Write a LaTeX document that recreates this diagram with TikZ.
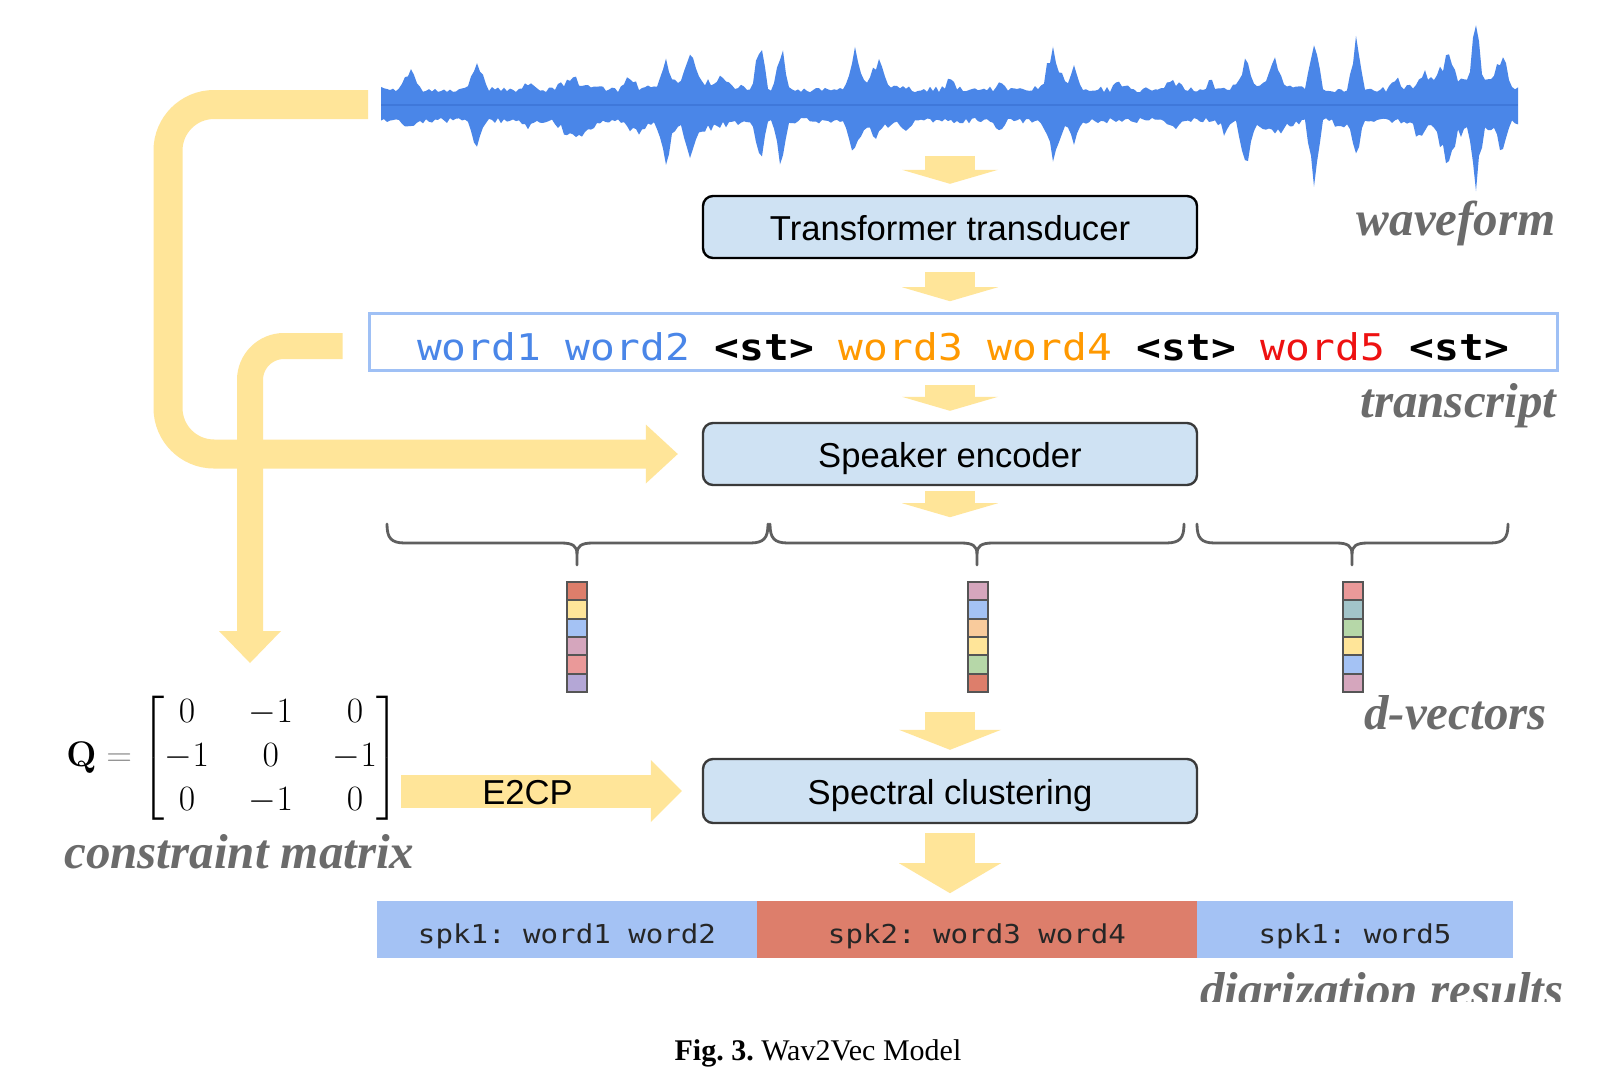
\documentclass[tikz,border=0pt]{standalone}
\usepackage{amsmath}
\usepackage{fix-cm}
\usepackage[no-math]{fontspec}
\setmainfont{Liberation Serif}
\setsansfont{Liberation Sans}
\setmonofont{DejaVu Sans Mono}
\newfontfamily\wmono[FakeStretch=1.12]{DejaVu Sans Mono}
\usetikzlibrary{arrows.meta,calc}

\definecolor{ylw}{HTML}{FFE599}
\definecolor{wblue}{HTML}{4A86E8}
\definecolor{wdark}{HTML}{3F78DA}
\definecolor{boxfill}{HTML}{CFE2F3}
\definecolor{boxline}{HTML}{3A3A3A}
\definecolor{lblue}{HTML}{A4C2F4}
\definecolor{trline}{HTML}{9FC0F5}
\definecolor{lred}{HTML}{DD7E6B}
\definecolor{wordorange}{HTML}{FF9900}
\definecolor{wordred}{HTML}{EE1111}
\definecolor{labgray}{HTML}{6B6B6B}
\definecolor{bracegray}{HTML}{5F5F5F}
\definecolor{vecgray}{HTML}{555555}
\definecolor{cA}{HTML}{DD7E6B}
\definecolor{cB}{HTML}{FFE599}
\definecolor{cC}{HTML}{A4C2F4}
\definecolor{cD}{HTML}{D5A6BD}
\definecolor{cE}{HTML}{EA9999}
\definecolor{cF}{HTML}{B4A7D6}
\definecolor{cG}{HTML}{F9CB9C}
\definecolor{cH}{HTML}{B6D7A8}
\definecolor{cI}{HTML}{A2C4C9}

\newcommand\dvbrace[3]{%
  \draw[bracestyle] (#1,524) .. controls (#1,538) and (#1+4,543) .. (#1+18,543) -- (#2-16,543) .. controls (#2-4,543) and (#2,546) .. (#2,554) -- (#2,565);
  \draw[bracestyle] (#3,524) .. controls (#3,538) and (#3-4,543) .. (#3-18,543) -- (#2+16,543) .. controls (#2+4,543) and (#2,546) .. (#2,554);
}
\newcommand\dvcol[2]{%
  \foreach \dvc [count=\dvi] in {#2} {
    \filldraw[fill=\dvc, draw=vecgray, line width=1pt] (#1,{582+18.3*(\dvi-1)}) rectangle ++(19.5,18.3);
  }
}

\begin{document}
\begin{tikzpicture}[x=0.5pt,y=-0.5pt,
  declare function={
    sp(\qa,\qb,\qc)=max(0,1-abs(\qa-\qb)/\qc);
    wt(\qa)=(0.8+0.35*rnd)*(16+8*sp(\qa,700,60)+12*sp(\qa,1460,70)+7*sp(\qa,870,40)+7*sp(\qa,1270,50)+9*sp(\qa,576,30)+6*sp(\qa,1060,40)
      +18*sp(\qa,411,12)+30*sp(\qa,477,11)+15*sp(\qa,630,10)+28*sp(\qa,666,10)+30*sp(\qa,691,10)+50*sp(\qa,760,8)+46*sp(\qa,781,8)
      +34*sp(\qa,855,10)+28*sp(\qa,878,9)+36*sp(\qa,1053,11)+22*sp(\qa,1074,8)+10*sp(\qa,1173,12)+26*sp(\qa,1246,10)+20*sp(\qa,1275,9)
      +46*sp(\qa,1314,9)+46*sp(\qa,1356,9)+26*sp(\qa,1447,11)+54*sp(\qa,1476,8)+30*sp(\qa,1502,10)
      +9*sp(\qa,530,9)+11*sp(\qa,720,8)+9*sp(\qa,950,9)+8*sp(\qa,1000,8)+9*sp(\qa,1120,9)+8*sp(\qa,1210,8)+11*sp(\qa,1395,9)+13*sp(\qa,1425,8));
    wb(\qa)=(0.8+0.35*rnd)*(16+8*sp(\qa,700,60)+12*sp(\qa,1460,70)+7*sp(\qa,870,40)+7*sp(\qa,1270,50)+9*sp(\qa,576,30)+6*sp(\qa,1060,40)
      +8*sp(\qa,411,12)+23*sp(\qa,477,11)+11*sp(\qa,576,22)+13*sp(\qa,630,10)+33*sp(\qa,666,10)+30*sp(\qa,691,10)+46*sp(\qa,760,8)+55*sp(\qa,781,8)
      +30*sp(\qa,855,10)+12*sp(\qa,878,9)+30*sp(\qa,1053,11)+20*sp(\qa,1074,8)+8*sp(\qa,1173,12)+37*sp(\qa,1246,10)+10*sp(\qa,1275,9)
      +66*sp(\qa,1314,9)+33*sp(\qa,1356,9)+38*sp(\qa,1447,11)+62*sp(\qa,1476,8)+24*sp(\qa,1502,10)
      +7*sp(\qa,530,9)+13*sp(\qa,640,8)+9*sp(\qa,905,9)+11*sp(\qa,1000,8)+13*sp(\qa,1225,8)+15*sp(\qa,1420,8)+11*sp(\qa,1340,8));
  },
  procbox/.style={draw=#1, fill=boxfill, line width=1.2pt, rounded corners=5pt,
    minimum width=247pt, minimum height=31pt, inner sep=0pt, text height=13pt, text depth=0pt,
    font=\sffamily\fontsize{17.3pt}{20pt}\selectfont},
  procbox/.default=black,
  barseg/.style={fill=#1, draw=none, minimum height=28.5pt, inner sep=0pt, text height=14pt, text depth=0pt,
    font=\wmono\frenchspacing\fontsize{13pt}{15pt}\selectfont, text=black!85},
  smallarr/.style={draw=ylw, line width=25pt, -{Triangle[length=7pt,width=48pt,line width=0pt]}},
  midarr/.style={draw=ylw, line width=25pt, -{Triangle[length=#1,width=51pt,line width=0pt]}},
  flowarr/.style={draw=ylw, line width=14.5pt, rounded corners=23pt, -{Triangle[length=16pt,width=29.5pt,line width=0pt]}},
  lab/.style={text=labgray, font=\bfseries\itshape\fontsize{24.5pt}{28pt}\selectfont, inner sep=0pt},
  bracestyle/.style={draw=bracegray, line width=1.4pt, line cap=round, line join=round},
]
\useasboundingbox (0,0) rectangle (1619,1067);
\fill[white] (0,0) rectangle (1619,1067);

% waveform
\pgfmathsetseed{11}
\fill[wblue] plot[domain=381:1518, samples=380] (\x,{105-wt(\x)}) -- plot[domain=1518:381, samples=380] (\x,{105+wb(\x)}) -- cycle;
\draw[wdark, line width=1.2pt] (381,105) -- (1518,105);
\coordinate (wL) at (368,104.5);

% boxes
\node[procbox=black] (tt) at (950,227) {Transformer transducer};
\node[draw=trline, line width=1.5pt, minimum width=594pt, minimum height=28.5pt, inner sep=0pt,
      text height=18.5pt, text depth=0pt, font=\wmono\frenchspacing\fontsize{18.4pt}{22pt}\selectfont] (tr) at (963,341.5)
  {\textcolor{wblue}{word1 word2} \textbf{<st>} \textcolor{wordorange}{word3 word4} \textbf{<st>} \textcolor{wordred}{word5} \textbf{<st>}};
\node[procbox=boxline] (se) at (950,454) {Speaker encoder};
\node[procbox=boxline, minimum height=32pt] (sc) at (950,791) {Spectral clustering};

% matrix
\node[anchor=west, inner sep=0pt, font=\fontsize{17.8pt}{22pt}\selectfont] (mat) at (66,758)
  {$\mathbf{Q}\mathrel{\textcolor{black!45}{=}}\setlength{\arraycolsep}{10pt}\begin{bmatrix}0&-1&0\\-1&0&-1\\0&-1&0\end{bmatrix}$};
\coordinate (qin) at (250,663);

% big flow arrows
\draw[flowarr] (wL) -- (168,104.5) |- ([xshift=-12pt]se.west);
\draw[flowarr, line width=13pt, rounded corners=17pt, -{Triangle[length=16pt,width=31pt,line width=0pt]}]
  ([shift={(-25,4.5)}]tr.west) -| (qin);
\draw[draw=ylw, line width=16.5pt, -{Triangle[length=15.5pt,width=31pt,line width=0pt]}]
  ([xshift=0.5pt]mat.east |- sc.west) -- ([xshift=-10pt]sc.west)
  node[pos=0.45, font=\sffamily\fontsize{17.3pt}{20pt}\selectfont, text height=13pt, text depth=0pt, inner sep=0pt] (e2cp) {E2CP};

% small arrows
\draw[smallarr] ($(tt.north)+(0,-39)$) -- ($(tt.north)+(0,-11)$);
\draw[smallarr] ($(tt.south)+(0,13)$) -- ($(tt.south)+(0,42)$);
\draw[smallarr] ($(tr.south -| se.north)+(0,13)$) -- ($(se.north)+(0,-11)$);
\draw[smallarr] ($(se.south)+(0,5)$) -- ($(se.south)+(0,31)$);
\draw[midarr=10pt] ($(sc.north)+(0,-46)$) -- ($(sc.north)+(0,-8)$);
\draw[midarr=15pt] ($(sc.south)+(0,9)$) -- ($(sc.south)+(0,69)$);

% braces and d-vectors
\dvbrace{387}{577}{768}
\dvbrace{770}{977}{1184}
\dvbrace{1197}{1352}{1508}
\dvcol{567}{cA,cB,cC,cD,cE,cF}
\dvcol{968}{cD,cC,cG,cB,cH,cA}
\dvcol{1343}{cE,cI,cH,cB,cC,cD}

% result bar
\node[barseg=lblue, minimum width=190pt] (r1) at (567,929.5) {spk1: word1 word2};
\node[barseg=lred, minimum width=220pt] (r2) at (977,929.5) {spk2: word3 word4};
\node[barseg=lblue, minimum width=158pt] (r3) at (1355,929.5) {spk1: word5};

% labels
\node[lab, anchor=base east] (lwave) at (1556,235) {waveform};
\node[lab, anchor=base east] (ltr) at (1557,417) {transcript};
\node[lab, anchor=base east] (ldv) at (1547,729) {d-vectors};
\node[lab, anchor=base west] (lcm) at (64,868) {constraint matrix};
\begin{scope}
  \clip (1150,960) rectangle (1619,1001);
  \node[lab, anchor=base east] (ldr) at (1564,1006) {diarization results};
\end{scope}

% caption
\node[anchor=base, inner sep=0pt, font=\frenchspacing\fontsize{15pt}{18pt}\selectfont] (cap) at (818,1060) {\textbf{Fig. 3.} Wav2Vec Model};
\end{tikzpicture}
\end{document}
